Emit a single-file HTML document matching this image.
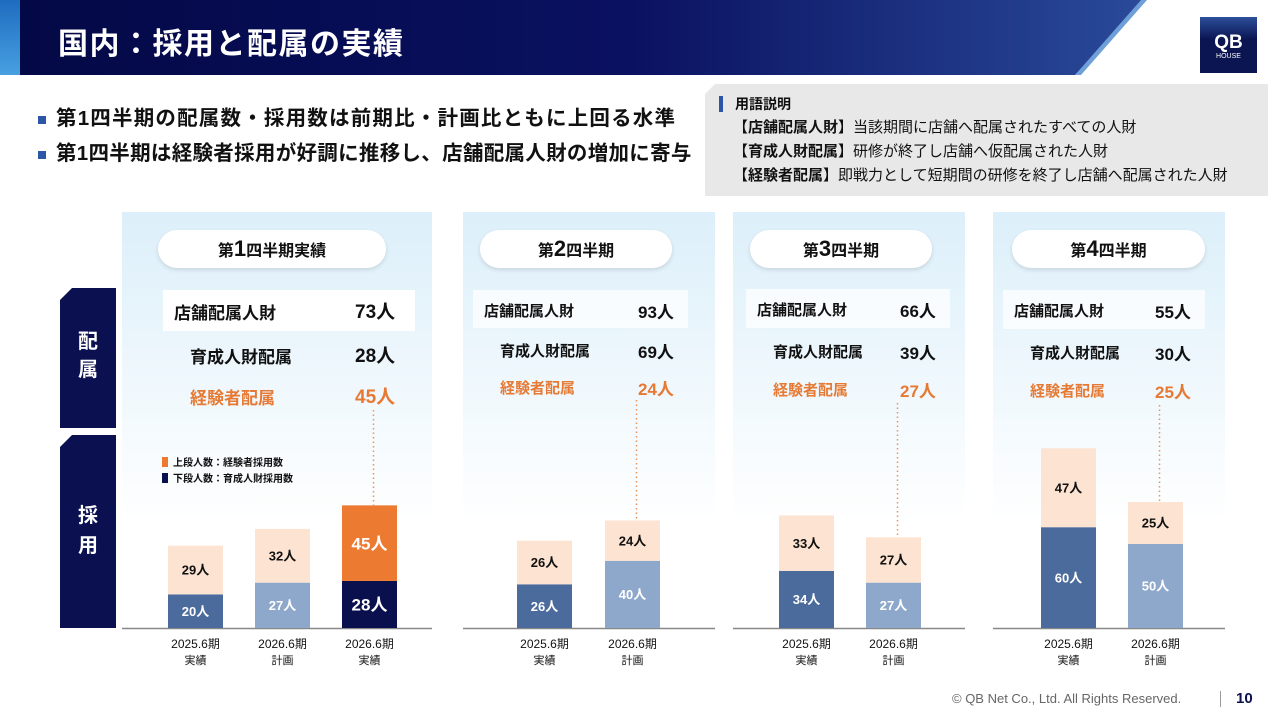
<!DOCTYPE html>
<html><head><meta charset="utf-8">
<style>
*{margin:0;padding:0;box-sizing:border-box}
body{width:1280px;height:720px;position:relative;overflow:hidden;background:#fff;font-family:"Liberation Sans","Noto Sans CJK JP",sans-serif;color:#111}
.abs{position:absolute}
.panel{position:absolute;top:212px;height:416px;background:linear-gradient(#dceffa,#ffffff 75%)}
.pill{position:absolute;top:230px;height:38px;border-radius:19px;background:#fff;box-shadow:0 2px 4px rgba(0,0,0,.12);text-align:center;line-height:38px;font-weight:bold;font-size:16px}
.pill b{font-size:22px}
.row{position:absolute;font-weight:bold;white-space:nowrap}
.orange{color:#e67a34}
.sidelab{position:absolute;left:60px;width:56px;background:#0b1150;color:#fff;font-weight:bold;font-size:20px;text-align:center;clip-path:polygon(12px 0,100% 0,100% 100%,0 100%,0 12px)}
</style></head><body>
<div class="abs" style="left:0;top:0;width:1145px;height:75px;background:linear-gradient(90deg,#030845,#0a1160 55%,#2a4a9a);clip-path:polygon(0 0,100% 0,1075px 100%,0 100%)"></div>
<div class="abs" style="left:1075px;top:0;width:72px;height:75px;background:#6f9fd8;clip-path:polygon(66px 0,72px 0,6px 75px,0 75px)"></div>
<div class="abs" style="left:0;top:0;width:20px;height:75px;background:linear-gradient(#1e6cc0,#48a0e0)"></div>
<div class="abs" style="left:58px;top:19px;color:#fff;font-size:30px;font-weight:bold;letter-spacing:1.5px">国内：採用と配属の実績</div>
<div class="abs" style="left:1200px;top:17px;width:57px;height:56px;background:linear-gradient(#2c4f9a,#0b1552 40%);color:#fff;text-align:center"><div style="font-size:19px;font-weight:bold;margin-top:16px;line-height:20px">QB</div><div style="font-size:7px">HOUSE</div></div>

<div class="abs" style="left:38px;top:101px;font-size:20.5px;font-weight:bold;letter-spacing:1.2px;white-space:nowrap"><span style="display:inline-block;width:8px;height:8px;background:#2d56a6;margin-right:10px;vertical-align:middle"></span>第1四半期の配属数・採用数は前期比・計画比ともに上回る水準</div>
<div class="abs" style="left:38px;top:136px;font-size:20.5px;font-weight:bold;letter-spacing:0.3px;white-space:nowrap"><span style="display:inline-block;width:8px;height:8px;background:#2d56a6;margin-right:10px;vertical-align:middle"></span>第1四半期は経験者採用が好調に推移し、店舗配属人財の増加に寄与</div>

<div class="abs" style="left:705px;top:84px;width:563px;height:112px;background:#e8e8e8;clip-path:polygon(10px 0,100% 0,100% 100%,0 100%,0 10px);font-size:15px;line-height:24px;white-space:nowrap">
<div style="position:absolute;left:14px;top:12px;width:4px;height:16px;background:#2d56a6"></div>
<div style="position:absolute;left:30px;top:8px;font-weight:bold;font-size:14px">用語説明</div>
<div style="position:absolute;left:28px;top:32px">【<b>店舗配属人財</b>】当該期間に店舗へ配属されたすべての人財</div>
<div style="position:absolute;left:28px;top:56px">【<b>育成人財配属</b>】研修が終了し店舗へ仮配属された人財</div>
<div style="position:absolute;left:28px;top:80px">【<b>経験者配属</b>】即戦力として短期間の研修を終了し店舗へ配属された人財</div>
</div>

<div class="sidelab" style="top:288px;height:140px;padding-top:40px;line-height:28px">配<br>属</div>
<div class="sidelab" style="top:435px;height:193px;padding-top:66px;line-height:30px">採<br>用</div>

<div class="panel" style="left:122px;width:310px"></div>
<div class="panel" style="left:463px;width:252px"></div>
<div class="panel" style="left:733px;width:232px"></div>
<div class="panel" style="left:993px;width:232px"></div>

<div class="pill" style="left:158px;width:228px">第<b>1</b>四半期実績</div>
<div class="pill" style="left:480px;width:192px">第<b>2</b>四半期</div>
<div class="pill" style="left:750px;width:182px">第<b>3</b>四半期</div>
<div class="pill" style="left:1012px;width:193px">第<b>4</b>四半期</div>

<div class="abs" style="left:163px;top:290px;width:252px;height:41px;background:#fff"></div>
<div class="row" style="left:174px;top:299px;font-size:17px">店舗配属人財</div>
<div class="row" style="left:355px;top:297px;font-size:19px">73人</div>
<div class="row" style="left:190px;top:343px;font-size:17px">育成人財配属</div>
<div class="row" style="left:355px;top:341px;font-size:19px">28人</div>
<div class="row orange" style="left:190px;top:384px;font-size:17px">経験者配属</div>
<div class="row orange" style="left:355px;top:382px;font-size:19px">45人</div>

<div class="abs" style="left:473px;top:290px;width:215px;height:38px;background:rgba(255,255,255,.75)"></div>
<div class="row" style="left:484px;top:300px;font-size:15px">店舗配属人財</div>
<div class="row" style="left:638px;top:298px;font-size:17px">93人</div>
<div class="row" style="left:500px;top:340px;font-size:15px">育成人財配属</div>
<div class="row" style="left:638px;top:338px;font-size:17px">69人</div>
<div class="row orange" style="left:500px;top:377px;font-size:15px">経験者配属</div>
<div class="row orange" style="left:638px;top:375px;font-size:17px">24人</div>

<div class="abs" style="left:746px;top:289px;width:204px;height:39px;background:rgba(255,255,255,.75)"></div>
<div class="row" style="left:757px;top:299px;font-size:15px">店舗配属人財</div>
<div class="row" style="left:900px;top:297px;font-size:17px">66人</div>
<div class="row" style="left:773px;top:341px;font-size:15px">育成人財配属</div>
<div class="row" style="left:900px;top:339px;font-size:17px">39人</div>
<div class="row orange" style="left:773px;top:379px;font-size:15px">経験者配属</div>
<div class="row orange" style="left:900px;top:377px;font-size:17px">27人</div>

<div class="abs" style="left:1003px;top:290px;width:202px;height:39px;background:rgba(255,255,255,.75)"></div>
<div class="row" style="left:1014px;top:300px;font-size:15px">店舗配属人財</div>
<div class="row" style="left:1155px;top:298px;font-size:17px">55人</div>
<div class="row" style="left:1030px;top:342px;font-size:15px">育成人財配属</div>
<div class="row" style="left:1155px;top:340px;font-size:17px">30人</div>
<div class="row orange" style="left:1030px;top:380px;font-size:15px">経験者配属</div>
<div class="row orange" style="left:1155px;top:378px;font-size:17px">25人</div>

<div class="abs" style="left:162px;top:456px;font-size:10px;font-weight:bold;line-height:16px">
<div><span style="display:inline-block;width:6px;height:10px;background:#ec7a31;margin-right:5px;vertical-align:-1px"></span>上段人数：経験者採用数</div>
<div><span style="display:inline-block;width:6px;height:10px;background:#0a0f4e;margin-right:5px;vertical-align:-1px"></span>下段人数：育成人財採用数</div>
</div>

<svg class="abs" style="left:0;top:0" width="1280" height="720" id="chart"></svg>

<div class="abs" style="left:952px;top:691px;font-size:13px;color:#666;white-space:nowrap">© QB Net Co., Ltd. All Rights Reserved.</div>
<div class="abs" style="left:1220px;top:691px;width:1px;height:16px;background:#999"></div>
<div class="abs" style="left:1236px;top:690px;font-size:15px;font-weight:bold;color:#0b1150">10</div>

<script>
const bottomVals=[20,27,28,26,40,34,27,60,50];
const topVals=[29,32,45,26,24,33,27,47,25];
const periodLabels=["2025.6期","2026.6期","2026.6期","2025.6期","2026.6期","2025.6期","2026.6期","2025.6期","2026.6期"];
const subLabels=["実績","計画","実績","実績","計画","実績","計画","実績","計画"];
const barKinds=["prev","plan","actual","prev","plan","prev","plan","prev","plan"];
const barX=[168,255,342,517,605,779,866,1041,1128];
const panels=[[122,432],[463,715],[733,965],[993,1225]];
const dotTopY=[410,400,403,405];
const dotBars=[2,4,6,8];
const base=628, scale=1.68, bw=55;
const y=v=>base-v*scale;
const NS="http://www.w3.org/2000/svg";
const svg=document.getElementById('chart');
function mk(tag,attrs){const e=document.createElementNS(NS,tag);for(const k in attrs)e.setAttribute(k,attrs[k]);svg.appendChild(e);return e;}
const botCol={prev:"#4b6b9c",plan:"#8ea8cb",actual:"#0a0f4e"};
const topCol={prev:"#fce3d2",plan:"#fce3d2",actual:"#ec7a31"};
panels.forEach((p,i)=>{
  const l=mk('line',{x1:p[0],x2:p[1],y1:base+0.5,y2:base+0.5,stroke:'#888','stroke-width':1.5});
  
  
});
bottomVals.forEach((bv,i)=>{
  const tv=topVals[i],k=barKinds[i],x=barX[i];
  const big=k==="actual";
  const r1=mk('rect',{x:x,y:y(bv),width:bw,height:bv*scale,fill:botCol[k]});
  
  
  const r2=mk('rect',{x:x,y:y(bv+tv),width:bw,height:tv*scale,fill:topCol[k]});
  
  
  const fs=big?17:13;
  const t1=mk('text',{x:x+bw/2,y:(y(bv)+base)/2+fs*0.36,'text-anchor':'middle','font-size':fs,'font-weight':'bold',fill:'#fff'});
  t1.textContent=bv+"人";
  
  
  const t2=mk('text',{x:x+bw/2,y:(y(bv+tv)+y(bv))/2+fs*0.36,'text-anchor':'middle','font-size':fs,'font-weight':'bold',fill:big?'#fff':'#111'});
  t2.textContent=tv+"人";
  
  
  const t3=mk('text',{x:x+bw/2,y:648,'text-anchor':'middle','font-size':12,fill:'#111'});
  t3.textContent=periodLabels[i];
  
  
  const t4=mk('text',{x:x+bw/2,y:664,'text-anchor':'middle','font-size':11,fill:'#111'});
  t4.textContent=subLabels[i];
  
  
});
dotBars.forEach((bi,j)=>{
  const cx=barX[bi]+bw/2+4;
  const d=mk('line',{x1:cx,x2:cx,y1:dotTopY[j],y2:y(bottomVals[bi]+topVals[bi]),stroke:'#e8945c','stroke-width':1.5,'stroke-dasharray':'1.5 3'});
  
  
});
</script>
</body></html>
